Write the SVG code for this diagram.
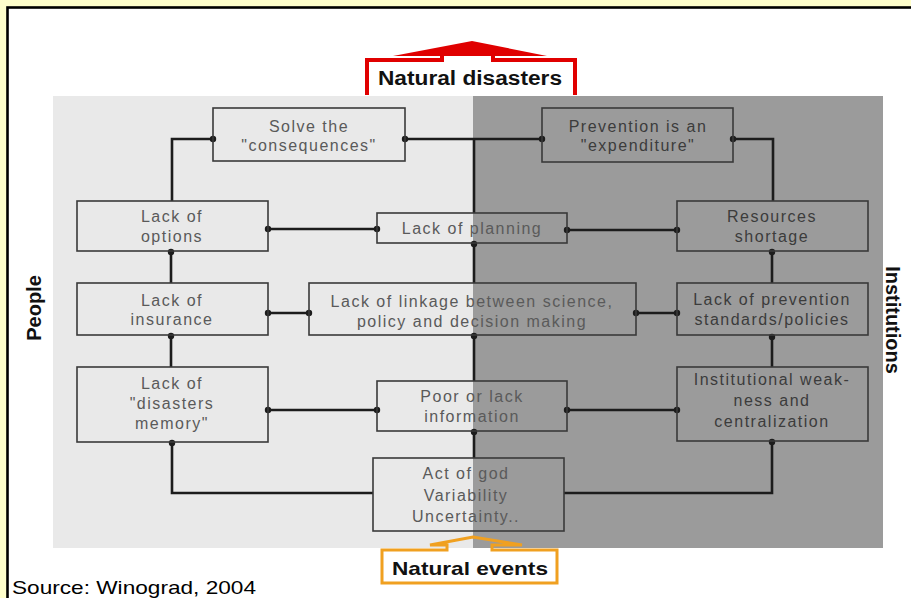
<svg xmlns="http://www.w3.org/2000/svg" width="911" height="598" viewBox="0 0 911 598">
<style>
.bx{fill:none;stroke:#3a3a3a;stroke-width:1.6}
.t{font-family:"Liberation Sans",Arial,sans-serif;font-size:16px;letter-spacing:1.5px;fill:#5a5a5a;text-anchor:middle}
.td{fill:#3c3c3c}
.c{fill:none;stroke:#1c1c1c;stroke-width:2.6}
.lab{font-family:"Liberation Sans",Arial,sans-serif;font-weight:bold;fill:#111;text-anchor:middle}
</style>
<defs>
<marker id="dot" viewBox="0 0 8 8" refX="4" refY="4" markerWidth="8" markerHeight="8" markerUnits="userSpaceOnUse" orient="auto">
<circle cx="4" cy="4" r="3.2" fill="#1c1c1c"/>
</marker>
</defs>
<rect x="0" y="0" width="911" height="598" fill="#FFFFCC"/>
<rect x="7.5" y="7.5" width="930" height="620" fill="#FFFFFF" stroke="#000" stroke-width="2.6"/>
<rect x="53" y="96" width="420" height="452" fill="#E9E9E9"/>
<rect x="473" y="96" width="410" height="452" fill="#9B9B9B"/>

<g id="natural-disasters">
<path d="M367,95 V60 H442 V55 M493,55 V60 H575 V95" fill="none" stroke="#E00000" stroke-width="4"/>
<polygon points="393,56 472,41 547,56" fill="#E00000"/>
<text class="lab" x="470" y="85" font-size="20" textLength="184" lengthAdjust="spacingAndGlyphs">Natural disasters</text>
</g>

<g id="natural-events">
<path d="M382,583 V550 H447 V545 H430 L473,537 L522,545 H492 V550 H557 V583 Z" fill="none" stroke="#F0A020" stroke-width="3"/>
<text class="lab" x="470" y="575" font-size="19" textLength="156" lengthAdjust="spacingAndGlyphs">Natural events</text>
</g>

<text class="lab" font-size="20" transform="translate(41,308) rotate(-90)">People</text>
<text class="lab" font-size="20" transform="translate(886,320) rotate(90)">Institutions</text>

<g id="connectors">
<path class="c" d="M172,201 V139 H213" marker-end="url(#dot)"/>
<path class="c" d="M474,213 V139"/>
<path class="c" d="M474,139 H405" marker-end="url(#dot)"/>
<path class="c" d="M474,139 H542" marker-end="url(#dot)"/>
<path class="c" d="M773,201 V139 H733" marker-end="url(#dot)"/>
<path class="c" d="M268,229 H377" marker-start="url(#dot)" marker-end="url(#dot)"/>
<path class="c" d="M567,230 H677" marker-start="url(#dot)" marker-end="url(#dot)"/>
<path class="c" d="M474,283 V244" marker-end="url(#dot)"/>
<path class="c" d="M171,283 V252" marker-end="url(#dot)"/>
<path class="c" d="M772,283 V252" marker-end="url(#dot)"/>
<path class="c" d="M268,313 H309" marker-start="url(#dot)" marker-end="url(#dot)"/>
<path class="c" d="M636,313 H677" marker-start="url(#dot)" marker-end="url(#dot)"/>
<path class="c" d="M171,367 V336" marker-end="url(#dot)"/>
<path class="c" d="M474,381 V336" marker-end="url(#dot)"/>
<path class="c" d="M772,367 V337" marker-end="url(#dot)"/>
<path class="c" d="M268,410 H377" marker-start="url(#dot)" marker-end="url(#dot)"/>
<path class="c" d="M567,410 H677" marker-start="url(#dot)" marker-end="url(#dot)"/>
<path class="c" d="M474,458 V432" marker-end="url(#dot)"/>
<path class="c" d="M373,493 H172 V443" marker-end="url(#dot)"/>
<path class="c" d="M564,493 H772 V442" marker-end="url(#dot)"/>
</g>

<g id="solve">
<rect class="bx" x="213" y="108" width="192" height="53"/>
<text class="t" x="309" y="132">Solve the</text>
<text class="t" x="309" y="151">"consequences"</text>
</g>
<g id="prevention">
<rect class="bx" x="542" y="108" width="191" height="54"/>
<text class="t td" x="638" y="132">Prevention is an</text>
<text class="t td" x="638" y="151">"expenditure"</text>
</g>
<g id="options">
<rect class="bx" x="77" y="201" width="191" height="50"/>
<text class="t" x="172" y="222">Lack of</text>
<text class="t" x="172" y="242">options</text>
</g>
<g id="planning">
<rect class="bx" x="377" y="213" width="190" height="30"/>
<text class="t" x="472" y="234">Lack of planning</text>
</g>
<g id="resources">
<rect class="bx" x="677" y="201" width="191" height="50"/>
<text class="t td" x="772" y="222">Resources</text>
<text class="t td" x="772" y="242">shortage</text>
</g>
<g id="insurance">
<rect class="bx" x="77" y="283" width="191" height="52"/>
<text class="t" x="172" y="306">Lack of</text>
<text class="t" x="172" y="325">insurance</text>
</g>
<g id="linkage">
<rect class="bx" x="309" y="283" width="327" height="52"/>
<text class="t" x="472" y="307">Lack of linkage between science,</text>
<text class="t" x="472" y="327">policy and decision making</text>
</g>
<g id="standards">
<rect class="bx" x="677" y="283" width="191" height="52"/>
<text class="t td" x="772" y="305">Lack of prevention</text>
<text class="t td" x="772" y="325">standards/policies</text>
</g>
<g id="memory">
<rect class="bx" x="77" y="367" width="191" height="75"/>
<text class="t" x="172" y="389">Lack of</text>
<text class="t" x="172" y="409">"disasters</text>
<text class="t" x="172" y="429">memory"</text>
</g>
<g id="poor-info">
<rect class="bx" x="377" y="381" width="190" height="50"/>
<text class="t" x="472" y="402">Poor or lack</text>
<text class="t" x="472" y="422">information</text>
</g>
<g id="institutional">
<rect class="bx" x="677" y="367" width="191" height="74"/>
<text class="t td" x="772" y="385">Institutional weak-</text>
<text class="t td" x="772" y="406">ness and</text>
<text class="t td" x="772" y="427">centralization</text>
</g>
<g id="act-of-god">
<rect class="bx" x="373" y="458" width="191" height="73"/>
<text class="t" x="466" y="479">Act of god</text>
<text class="t" x="466" y="501">Variability</text>
<text class="t" x="466" y="522">Uncertainty..</text>
</g>

<text x="12" y="594" font-family="'Liberation Sans',Arial,sans-serif" font-size="19" fill="#000" textLength="244" lengthAdjust="spacingAndGlyphs">Source: Winograd, 2004</text>
</svg>
